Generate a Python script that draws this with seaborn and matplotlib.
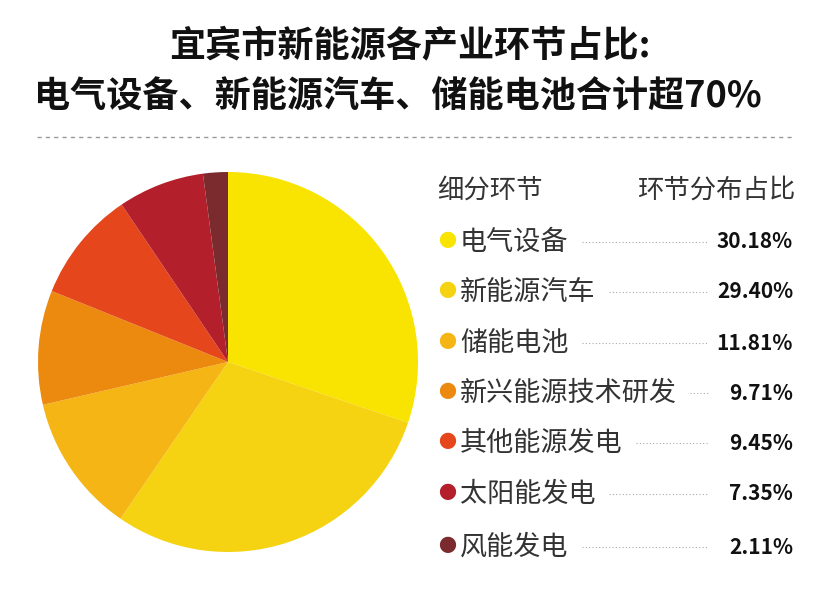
import matplotlib
matplotlib.use("Agg")
import matplotlib.pyplot as plt
import seaborn as sns

sns.set_theme(style="white")
plt.rcParams['font.family'] = ['Noto Sans CJK SC', 'DejaVu Sans']

categories = ["电气设备", "新能源汽车", "储能电池", "新兴能源技术研发", "其他能源发电", "太阳能发电", "风能发电"]
values = [30.18, 29.40, 11.81, 9.71, 9.45, 7.35, 2.11]
colors = ["#F8E400", "#F5D212", "#F4B515", "#EC8A10", "#E5461C", "#B3202C", "#7B2B2E"]

W, H = 831, 593
fig = plt.figure(figsize=(W/100, H/100), dpi=100)
fig.patch.set_facecolor("white")

cx, cy, r = 228, 362, 190
ax = fig.add_axes([(cx-r)/W, (H-cy-r)/H, 2*r/W, 2*r/H])
ax.pie(values, colors=colors, startangle=90, counterclock=False,
       wedgeprops=dict(linewidth=0))
ax.set_xlim(-1, 1)
ax.set_ylim(-1, 1)
ax.set_aspect("equal")
ax.axis("off")

fig.text(410/W, 1-47/H, "宜宾市新能源各产业环节占比:", ha="center", va="center",
         fontsize=26, fontweight="bold", color="#111111")
fig.text(398/W, 1-97/H, "电气设备、新能源汽车、储能电池合计超70%", ha="center", va="center",
         fontsize=26, fontweight="bold", color="#111111")
fig.add_artist(plt.Line2D([37/W, 795/W], [1-137/H, 1-137/H], color="#999999",
                          linestyle=(0, (3, 3)), linewidth=1))

fig.text(437/W, 1-190/H, "细分环节", ha="left", va="center", fontsize=19, color="#333333")
fig.text(795/W, 1-190/H, "环节分布占比", ha="right", va="center", fontsize=19, color="#333333")

rows_y = [242, 292, 343, 393, 443, 494, 547]
for cat, v, c, y in zip(categories, values, colors, rows_y):
    fy = 1 - y/H
    fig.text(447/W, fy, "●", ha="center", va="center", fontsize=13, color=c)
    fig.text(460/W, fy, cat, ha="left", va="center", fontsize=19.5, color="#333333")
    fig.text(793/W, fy, f"{v:.2f}%", ha="right", va="center", fontsize=15,
             fontweight="bold", color="#111111", fontstretch="condensed")
    startx = 462 + 27*len(cat) + 12
    if startx < 700:
        fig.add_artist(plt.Line2D([startx/W, 708/W], [fy, fy], color="#aaaaaa",
                                  linestyle=(0, (1, 2)), linewidth=0.8))

fig.savefig("out.png", dpi=100, facecolor="white")
